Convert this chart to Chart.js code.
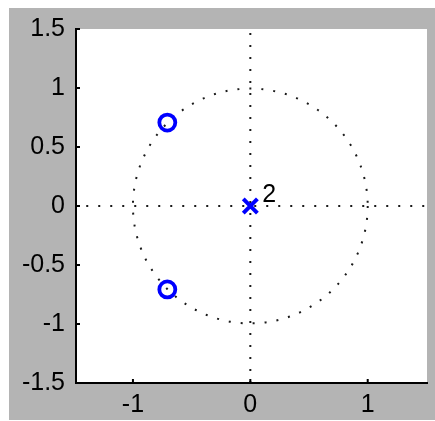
<!DOCTYPE html>
<html>
<head>
<meta charset="utf-8">
<script src="https://cdn.jsdelivr.net/npm/chart.js@4.4.1/dist/chart.umd.min.js"></script>
<style>
  html, body { margin: 0; padding: 0; background: #ffffff; }
  #wrap { position: absolute; left: 9px; top: 8px; width: 426px; height: 412px; background: #b4b4b4; }
</style>
</head>
<body>
<div id="wrap"><canvas id="c"></canvas></div>
<script>
// ---- data ----
const xTicks = [-1, 0, 1];
const yTicks = [-1.5, -1, -0.5, 0, 0.5, 1, 1.5];
const xLimits = [-1.485, 1.505];
const yLimits = [-1.5, 1.5];
const zerosRe = [-0.7071, -0.7071];
const zerosIm = [0.7071, -0.7071];
const polesRe = [0];
const polesIm = [0];
const poleMultiplicity = ['2'];
const unitCircleRadius = [1];
const horizRef = [[-1.5, 0], [1.5, 0]];
const vertRef = [[0, -1.5], [0, 1.5]];

const FONT = '"Liberation Sans", Arial, Helvetica, sans-serif';

const zeroPts = zerosRe.map((x, i) => ({ x, y: zerosIm[i] }));
const polePts = polesRe.map((x, i) => ({ x, y: polesIm[i] }));

function noPad(s) { s.paddingTop = 0; s.paddingBottom = 0; s.paddingLeft = 0; s.paddingRight = 0; }

const bgPlugin = {
  id: 'bg',
  beforeDraw(chart) {
    const { ctx, chartArea: a } = chart;
    ctx.save();
    ctx.fillStyle = '#ffffff';
    ctx.fillRect(a.left, a.top, a.right - a.left, a.bottom - a.top);
    ctx.restore();
  },
  beforeDatasetsDraw(chart) {
    const { ctx, chartArea: a, scales } = chart;
    ctx.save();
    ctx.beginPath();
    ctx.rect(a.left, a.top, a.right - a.left, a.bottom - a.top);
    ctx.clip();
    unitCircleRadius.forEach(r => {
      const cx = scales.x.getPixelForValue(0);
      const cy = scales.y.getPixelForValue(0);
      const rp = scales.x.getPixelForValue(r) - cx;
      ctx.beginPath();
      ctx.setLineDash([2, 10]);
      ctx.lineWidth = 2;
      ctx.strokeStyle = '#1a1a1a';
      ctx.arc(cx, cy, rp, 0, Math.PI * 2);
      ctx.stroke();
    });
    ctx.restore();
  },
  afterDraw(chart) {
    const { ctx, chartArea: a, scales } = chart;
    ctx.save();
    ctx.strokeStyle = '#000000';
    ctx.lineWidth = 2;
    ctx.beginPath();
    xTicks.forEach(v => {
      const px = scales.x.getPixelForValue(v);
      ctx.moveTo(px, a.bottom);
      ctx.lineTo(px, a.bottom - 4);
    });
    yTicks.forEach(v => {
      const py = scales.y.getPixelForValue(v);
      ctx.moveTo(a.left, py);
      ctx.lineTo(a.left + 4, py);
    });
    ctx.stroke();
    // multiplicity label
    ctx.fillStyle = '#000000';
    ctx.font = '25px ' + FONT;
    ctx.textAlign = 'left';
    ctx.textBaseline = 'alphabetic';
    polePts.forEach((p, i) => {
      const px = scales.x.getPixelForValue(p.x);
      const py = scales.y.getPixelForValue(p.y);
      ctx.fillText(poleMultiplicity[i], px + 12, py - 4);
    });
    ctx.restore();
  }
};

new Chart(document.getElementById('c'), {
  type: 'scatter',
  data: {
    datasets: [
      {
        label: 'poles',
        data: polePts,
        pointStyle: 'crossRot',
        pointRadius: 10,
        pointBorderWidth: 4,
        borderColor: '#0000ff',
        backgroundColor: '#0000ff',
        showLine: false,
        order: 0
      },
      {
        label: 'zeros',
        data: zeroPts,
        pointStyle: 'circle',
        pointRadius: 8,
        pointBorderWidth: 3.8,
        borderColor: '#0000ff',
        backgroundColor: 'rgba(0,0,0,0)',
        showLine: false,
        order: 1
      },
      {
        label: 'h',
        data: horizRef.map(p => ({ x: p[0], y: p[1] })),
        showLine: true,
        borderColor: '#1a1a1a',
        borderWidth: 2,
        borderDash: [2, 10],
        pointRadius: 0,
        order: 2
      },
      {
        label: 'v',
        data: vertRef.map(p => ({ x: p[0], y: p[1] })),
        showLine: true,
        borderColor: '#1a1a1a',
        borderWidth: 2,
        borderDash: [2, 10],
        pointRadius: 0,
        order: 3
      }
    ]
  },
  options: {
    responsive: true,
    maintainAspectRatio: false,
    animation: false,
    layout: { autoPadding: false, padding: { top: 21, right: 8, left: 0, bottom: 0 } },
    plugins: { legend: { display: false }, tooltip: { enabled: false } },
    scales: {
      x: {
        type: 'linear',
        min: xLimits[0],
        max: xLimits[1],
        afterBuildTicks(s) { s.ticks = xTicks.map(v => ({ value: v })); },
        afterFit(s) { s.height = 37; noPad(s); },
        grid: { display: false, drawTicks: false },
        border: { display: true, color: '#000000', width: 2 },
        ticks: {
          color: '#000000',
          padding: 7,
          maxRotation: 0,
          autoSkip: false,
          font: { family: FONT, size: 25 },
          callback: v => String(v)
        }
      },
      y: {
        type: 'linear',
        min: yLimits[0],
        max: yLimits[1],
        afterBuildTicks(s) { s.ticks = yTicks.map(v => ({ value: v })); },
        afterFit(s) { s.width = 67; noPad(s); },
        grid: { display: false, drawTicks: false },
        border: { display: true, color: '#000000', width: 2 },
        ticks: {
          color: '#000000',
          padding: 11,
          autoSkip: false,
          font: { family: FONT, size: 25 },
          callback: v => String(v)
        }
      }
    }
  },
  plugins: [bgPlugin]
});
</script>
</body>
</html>
